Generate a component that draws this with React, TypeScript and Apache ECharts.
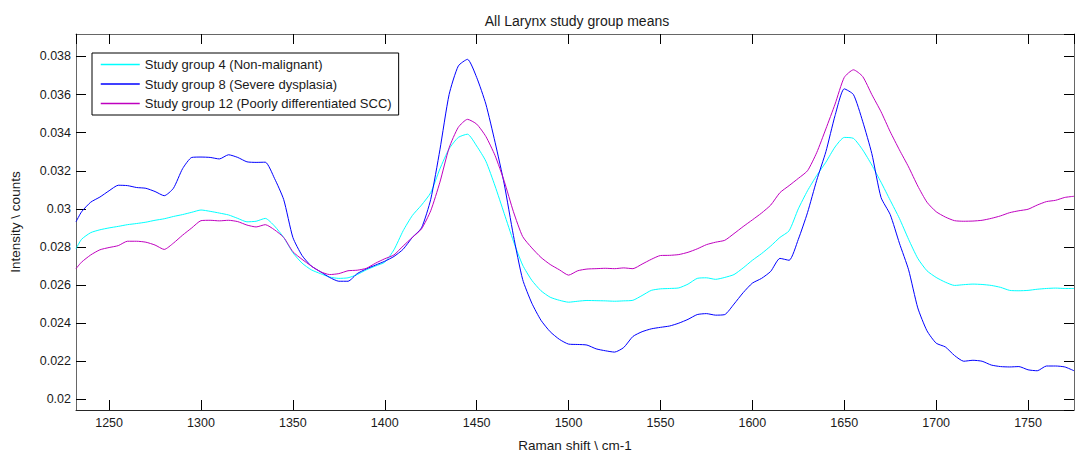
import React, { useEffect, useRef } from 'react';
import * as echarts from 'echarts';

const titleText = 'All Larynx study group means';
const xAxisTitle = 'Raman shift \\ cm-1';
const yAxisTitle = 'Intensity \\ counts';
const seriesNames = [
  'Study group 4 (Non-malignant)',
  'Study group 8 (Severe dysplasia)',
  'Study group 12 (Poorly differentiated SCC)',
];
const seriesColors = ['#00ffff', '#0000ff', '#bf00bf'];

const wavenumbers = [
  1232, 1235, 1240, 1245, 1250, 1255, 1260, 1265, 1270, 1275, 1280, 1285, 1290, 1295, 1300, 1305, 1310, 1315, 1320, 1325,
  1330, 1335, 1340, 1345, 1350, 1355, 1360, 1365, 1370, 1375, 1380, 1385, 1390, 1395, 1400, 1405, 1410, 1415, 1420, 1425,
  1430, 1435, 1440, 1445, 1450, 1455, 1460, 1465, 1470, 1475, 1480, 1485, 1490, 1495, 1500, 1505, 1510, 1515, 1520, 1525,
  1530, 1535, 1540, 1545, 1550, 1555, 1560, 1565, 1570, 1575, 1580, 1585, 1590, 1595, 1600, 1605, 1610, 1615, 1620, 1625,
  1630, 1635, 1640, 1645, 1650, 1655, 1660, 1665, 1670, 1675, 1680, 1685, 1690, 1695, 1700, 1705, 1710, 1715, 1720, 1725,
  1730, 1735, 1740, 1745, 1750, 1755, 1760, 1765, 1770, 1775,
];

const group4 = [
  0.0279, 0.0284, 0.02875, 0.0289, 0.029, 0.02908, 0.02917, 0.02923, 0.0293, 0.0294, 0.02948, 0.0296, 0.0297, 0.02982, 0.02994, 0.02987, 0.02978, 0.02968, 0.0295, 0.02932,
  0.02935, 0.0295, 0.0291, 0.0285, 0.0277, 0.02715, 0.0268, 0.0266, 0.02642, 0.02635, 0.02638, 0.02655, 0.0268, 0.027, 0.0272, 0.02785, 0.02885, 0.02965, 0.0302, 0.03085,
  0.0321, 0.03315, 0.03375, 0.03392, 0.0333, 0.0325, 0.0312, 0.02975, 0.0283, 0.02705, 0.02625, 0.0257, 0.02536, 0.0252, 0.0251, 0.02515, 0.02519, 0.02518, 0.02517, 0.02515,
  0.02517, 0.0252, 0.02545, 0.02572, 0.0258, 0.02582, 0.02585, 0.02605, 0.02635, 0.02638, 0.0263, 0.0264, 0.02655, 0.0269, 0.0273, 0.02765, 0.02805, 0.0285, 0.02885, 0.03,
  0.03095, 0.03175, 0.03245, 0.03325, 0.03375, 0.0337, 0.0331, 0.0323, 0.0314, 0.03045, 0.0295, 0.0284, 0.0274, 0.02675, 0.0264, 0.02615, 0.02598, 0.02602, 0.02605, 0.02603,
  0.02598, 0.02588, 0.02572, 0.0257, 0.02572, 0.02578, 0.02582, 0.02584, 0.02582, 0.02582,
];

const group8 = [
  0.02932, 0.02984, 0.03035, 0.03062, 0.03095, 0.03124, 0.03122, 0.03112, 0.03108, 0.03091, 0.03069, 0.03108, 0.03211, 0.0327, 0.03272, 0.0327, 0.03262, 0.03284, 0.0327, 0.03247,
  0.03244, 0.03245, 0.0316, 0.03049, 0.0285, 0.02755, 0.027, 0.0267, 0.0264, 0.0262, 0.0262, 0.0266, 0.02685, 0.02705, 0.02725, 0.0275, 0.02788, 0.0285, 0.029, 0.0305,
  0.0331, 0.036, 0.0375, 0.03785, 0.0369, 0.0355, 0.0335, 0.0313, 0.0286, 0.0263, 0.02505, 0.02415, 0.02355, 0.02315, 0.0229, 0.02288, 0.02285, 0.02265, 0.02255, 0.02248,
  0.02272, 0.0233, 0.02355, 0.0237, 0.02378, 0.02385, 0.024, 0.0242, 0.02445, 0.0245, 0.02442, 0.02445, 0.025, 0.0256, 0.0261, 0.02635, 0.02672, 0.0274, 0.0273, 0.0284,
  0.0298, 0.0315, 0.033, 0.0349, 0.0363, 0.036, 0.0346, 0.0329, 0.0306, 0.0297, 0.0282, 0.0268, 0.0248, 0.0236, 0.02295, 0.02275, 0.0223, 0.022, 0.02205, 0.022,
  0.0218, 0.02172, 0.0217, 0.02172, 0.02155, 0.0215, 0.02175, 0.02175, 0.0217, 0.0215,
];

const group12 = [
  0.02686, 0.0272, 0.02758, 0.02785, 0.02797, 0.02807, 0.0283, 0.0283, 0.02825, 0.0281, 0.02787, 0.0282, 0.02862, 0.029, 0.02938, 0.0294, 0.02937, 0.0294, 0.02933, 0.02915,
  0.02905, 0.02917, 0.0289, 0.0285, 0.02775, 0.02735, 0.027, 0.0267, 0.02655, 0.0266, 0.02675, 0.02678, 0.02688, 0.02715, 0.02738, 0.02758, 0.02805, 0.0285, 0.02895, 0.0299,
  0.0314, 0.0332, 0.03428, 0.0347, 0.03445, 0.0338, 0.0328, 0.03145, 0.02985, 0.02855, 0.02795, 0.02745, 0.02708, 0.0268, 0.02652, 0.02675, 0.02684, 0.02686, 0.02688, 0.02686,
  0.0269, 0.02686, 0.0271, 0.02735, 0.02755, 0.02756, 0.0276, 0.02772, 0.0279, 0.02812, 0.02825, 0.02835, 0.0287, 0.02907, 0.02942, 0.02978, 0.0302, 0.03085, 0.03122, 0.0316,
  0.032, 0.03295, 0.0342, 0.0355, 0.0369, 0.0373, 0.03695, 0.036, 0.0351, 0.03405, 0.0331, 0.0322, 0.0312, 0.03035, 0.02985, 0.02957, 0.02938, 0.02935, 0.02936, 0.0294,
  0.0295, 0.02963, 0.0298, 0.0299, 0.02998, 0.0302, 0.03038, 0.03045, 0.0306, 0.03066,
];

const seriesValues = [group4, group8, group12];

const FONT = '"Liberation Sans", Arial, sans-serif';
const X_MIN = 1232;
const X_MAX = 1775;
const Y_MIN = 0.01944;
const Y_MAX = 0.03918;

export default function App() {
  const ref = useRef<HTMLDivElement>(null);
  useEffect(() => {
    if (!ref.current) return;
    const chart = echarts.init(ref.current, null, { renderer: 'svg' });
    const axisBase = {
      type: 'value' as const,
      splitLine: { show: false },
    };
    const xCommon = {
      ...axisBase,
      min: X_MIN,
      max: X_MAX,
      splitNumber: 10,
      minInterval: 50,
      maxInterval: 50,
    };
    const yCommon = {
      ...axisBase,
      min: Y_MIN,
      max: Y_MAX,
      splitNumber: 10,
      minInterval: 0.002,
      maxInterval: 0.002,
    };
    chart.setOption({
      animation: false,
      backgroundColor: '#ffffff',
      textStyle: { fontFamily: FONT },
      title: {
        text: titleText,
        left: 572,
        textAlign: 'center',
        top: 9,
        textStyle: { fontSize: 14, fontWeight: 'normal', color: '#1a1a1a', fontFamily: FONT },
      },
      grid: { left: 68, top: 34, width: 1006, height: 385, containLabel: false },
      legend: {
        orient: 'vertical',
        left: 92,
        top: 53,
        data: seriesNames.map((name, i) => ({
          name,
          itemStyle: { color: seriesColors[i], opacity: 0 },
          lineStyle: { color: seriesColors[i], width: 1.5, opacity: 1 },
        })),
        itemWidth: 39,
        itemHeight: 14,
        itemGap: 5.5,
        padding: [4.5, 7, 4.5, 8],
        borderColor: '#000',
        borderWidth: 1,
        backgroundColor: '#fff',
        textStyle: { fontSize: 13, color: '#1a1a1a', fontFamily: FONT, lineHeight: 14, padding: [0, 0, 0, 0] },
        z: 10,
      },
      xAxis: [
        {
          ...xCommon,
          position: 'bottom',
          name: xAxisTitle,
          nameLocation: 'middle',
          nameGap: 28,
          nameTextStyle: { fontSize: 13.5, color: '#1a1a1a', fontFamily: FONT },
          axisLine: { show: true, lineStyle: { color: '#262626', width: 1 } },
          axisTick: { show: true, inside: true, length: 10, lineStyle: { color: '#000' } },
          axisLabel: {
            show: true,
            margin: 6,
            fontSize: 12.5,
            color: '#1a1a1a',
            fontFamily: FONT,
            showMinLabel: false,
            showMaxLabel: false,
            formatter: (v: number) => String(v),
          },
        },
        {
          ...xCommon,
          position: 'top',
          axisLine: { show: true, onZero: false, lineStyle: { color: '#666', width: 1 } },
          axisTick: { show: true, inside: true, length: 10, lineStyle: { color: '#000' } },
          axisLabel: { show: false },
        },
      ],
      yAxis: [
        {
          ...yCommon,
          position: 'left',
          name: yAxisTitle,
          nameLocation: 'middle',
          nameGap: 54,
          nameRotate: 90,
          nameTextStyle: { fontSize: 13.5, color: '#1a1a1a', fontFamily: FONT },
          axisLine: { show: true, lineStyle: { color: '#666', width: 1 } },
          axisTick: { show: true, inside: true, length: 10, lineStyle: { color: '#000' } },
          axisLabel: {
            show: true,
            margin: 5,
            fontSize: 12.5,
            color: '#1a1a1a',
            fontFamily: FONT,
            showMinLabel: false,
            showMaxLabel: false,
          },
        },
        {
          ...yCommon,
          position: 'right',
          axisLine: { show: true, onZero: false, lineStyle: { color: '#666', width: 1 } },
          axisTick: { show: true, inside: true, length: 10, lineStyle: { color: '#000' } },
          axisLabel: { show: false },
        },
      ],
      series: seriesNames.map((name, si) => ({
        name,
        type: 'line',
        xAxisIndex: 0,
        yAxisIndex: 0,
        data: wavenumbers.map((w, i) => [w, seriesValues[si][i]]),
        symbol: 'none',
        showSymbol: false,
        smooth: 0.2,
        color: seriesColors[si],
        lineStyle: { color: seriesColors[si], width: 1 },
        itemStyle: { color: seriesColors[si] },
      })),
    });
    return () => chart.dispose();
  }, []);
  return (
    <div
      ref={ref}
      style={{ position: 'fixed', left: 0, top: 0, width: 1075, height: 457, background: '#fff' }}
    />
  );
}
